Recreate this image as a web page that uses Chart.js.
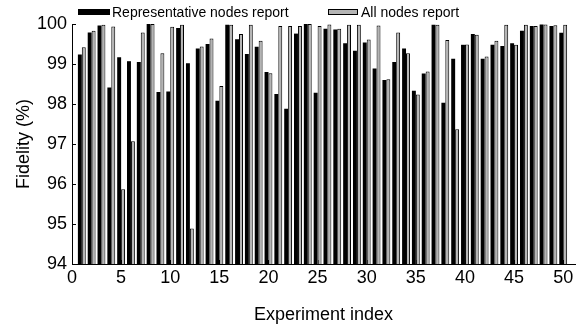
<!DOCTYPE html>
<html>
<head>
<meta charset="utf-8">
<script src="https://cdn.jsdelivr.net/npm/chart.js@4.4.1/dist/chart.umd.min.js"></script>
<style>
  html, body { margin: 0; padding: 0; background: #fff; }
  #wrap { width: 578px; height: 329px; }
</style>
</head>
<body>
<div id="wrap"><canvas id="chart" width="578" height="329"></canvas></div>
<script>
'use strict';

const experiments = [1, 2, 3, 4, 5, 6, 7, 8, 9, 10, 11, 12, 13, 14, 15, 16, 17, 18, 19, 20,
  21, 22, 23, 24, 25, 26, 27, 28, 29, 30, 31, 32, 33, 34, 35, 36, 37, 38, 39, 40,
  41, 42, 43, 44, 45, 46, 47, 48, 49, 50];

// Representative nodes report
const repValues = [99.24, 99.79, 99.96, 98.41, 99.17, 99.07, 99.05, 100, 98.30, 98.31,
  99.90, 99.02, 99.39, 99.50, 98.08, 99.98, 99.62, 99.25, 99.43, 98.80,
  98.25, 97.88, 99.76, 100, 98.28, 99.88, 99.86, 99.52, 99.33, 99.54,
  98.89, 98.60, 99.05, 99.39, 98.33, 98.76, 99.98, 98.03, 99.13, 99.48,
  99.75, 99.13, 99.48, 99.45, 99.52, 99.83, 99.95, 99.99, 99.95, 99.78];

// All nodes report
const allValues = [99.42, 99.83, 99.98, 99.94, 95.87, 97.07, 99.79, 100, 99.27, 99.93,
  99.98, 94.89, 99.44, 99.64, 98.45, 99.98, 99.75, 99.98, 99.58, 98.77,
  99.95, 99.95, 99.95, 100, 99.95, 99.99, 99.88, 99.98, 99.98, 99.61,
  99.96, 98.62, 99.79, 99.27, 98.24, 98.81, 99.98, 99.60, 97.37, 99.49,
  99.73, 99.19, 99.58, 99.98, 99.48, 99.98, 99.95, 99.99, 99.97, 99.98];

const xTicks = [0, 5, 10, 15, 20, 25, 30, 35, 40, 45, 50];
const yTicks = [94, 95, 96, 97, 98, 99, 100];
const seriesNames = ['Representative nodes report', 'All nodes report'];

const FONT = "'Liberation Sans', Arial, sans-serif";

// matlab style legend above the axes
const legendPlugin = {
  id: 'matLegend',
  afterDraw(chart) {
    const ctx = chart.ctx;
    ctx.save();
    ctx.font = '14px ' + FONT;
    ctx.textBaseline = 'alphabetic';
    ctx.fillStyle = '#000';
    ctx.fillRect(78, 9, 32, 6);
    ctx.fillText(seriesNames[0], 112, 17);
    ctx.fillStyle = '#b4b4b4';
    ctx.fillRect(328, 9, 30, 6);
    ctx.strokeStyle = '#000';
    ctx.lineWidth = 1;
    ctx.strokeRect(328.5, 9.5, 29, 5);
    ctx.fillStyle = '#000';
    ctx.fillText(seriesNames[1], 361, 17);
    ctx.restore();
  }
};

// small inward ticks like matlab
const inTicksPlugin = {
  id: 'inTicks',
  beforeDatasetsDraw(chart) {
    const ctx = chart.ctx;
    const area = chart.chartArea;
    const xs = chart.scales.x;
    const ys = chart.scales.y;
    ctx.save();
    ctx.strokeStyle = '#000';
    ctx.lineWidth = 1;
    ctx.beginPath();
    yTicks.forEach(v => {
      const py = Math.round(ys.getPixelForValue(v)) + 0.5;
      ctx.moveTo(area.left, py);
      ctx.lineTo(area.left + 4, py);
    });
    xTicks.forEach(v => {
      const px = Math.round(xs.getPixelForValue(v)) + 0.5;
      ctx.moveTo(px, area.bottom);
      ctx.lineTo(px, area.bottom - 4);
    });
    ctx.stroke();
    ctx.restore();
  }
};

const canvasEl = document.getElementById('chart');

function drawChart() {
  const repData = [];
  const allData = [];
  experiments.forEach((e, i) => {
    repData.push({x: e, y: repValues[i]});
    allData.push({x: e, y: allValues[i]});
  });

  return new Chart(canvasEl, {
    type: 'bar',
    data: {
      datasets: [{
        label: seriesNames[0],
        data: repData,
        backgroundColor: '#000',
        borderColor: '#000',
        borderWidth: 0,
        base: yTicks[0],
        categoryPercentage: 0.8,
        barPercentage: 1
      }, {
        label: seriesNames[1],
        data: allData,
        backgroundColor: '#b4b4b4',
        borderColor: '#000',
        borderWidth: 1,
        borderSkipped: 'start',
        base: yTicks[0],
        categoryPercentage: 0.8,
        barPercentage: 1
      }]
    },
    options: {
      responsive: false,
      animation: false,
      devicePixelRatio: 1,
      layout: { padding: { top: 24, right: 3, left: 0, bottom: 0 } },
      plugins: {
        legend: { display: false },
        tooltip: { enabled: false }
      },
      scales: {
        x: {
          type: 'linear',
          min: 0,
          max: 51.2,
          offset: false,
          grid: { display: false, drawTicks: false, tickLength: 0 },
          border: { display: true, color: '#000', width: 1 },
          afterBuildTicks: s => { s.ticks = xTicks.map(v => ({value: v})); },
          afterFit: s => { s.height = 65; },
          ticks: {
            autoSkip: false,
            maxRotation: 0,
            padding: 3,
            color: '#000',
            font: { family: FONT, size: 18 }
          },
          title: {
            display: true,
            text: 'Experiment index',
            color: '#000',
            padding: { top: 0, bottom: 3 },
            font: { family: FONT, size: 18 }
          }
        },
        y: {
          min: 94,
          max: 100,
          grid: { display: false, drawTicks: false, tickLength: 0 },
          border: { display: true, color: '#000', width: 1 },
          afterBuildTicks: s => { s.ticks = yTicks.map(v => ({value: v})); },
          afterFit: s => { s.width = 72; },
          ticks: {
            padding: 5,
            color: '#000',
            font: { family: FONT, size: 18 }
          },
          title: {
            display: true,
            text: 'Fidelity (%)',
            color: '#000',
            padding: { top: 13, bottom: 0 },
            font: { family: FONT, size: 18 }
          }
        }
      }
    },
    plugins: [inTicksPlugin, legendPlugin]
  });
}

drawChart();
</script>
</body>
</html>
